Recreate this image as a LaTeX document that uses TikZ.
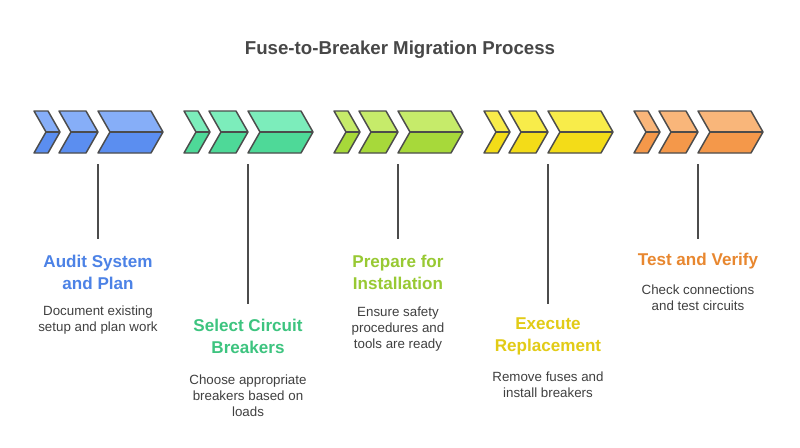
\documentclass[tikz,border=0pt]{standalone}
\usepackage{fontspec}
\setmainfont{Liberation Sans}
\begin{document}
\begin{tikzpicture}[x=0.75pt,y=-0.75pt,
  chev/.style={draw=black!70,line width=1.1pt,line join=round},
  vline/.style={draw=black!70,line width=1.1pt},
  ttl/.style={font=\bfseries\fontsize{12.8}{16.5}\selectfont,align=center},
  dsc/.style={font=\fontsize{10}{12}\selectfont,align=center,text=black!75}]
\useasboundingbox (0,0) rectangle (800,447);
\fill[white] (0,0) rectangle (800,447);
\node[font=\bfseries\fontsize{14}{16}\selectfont,text=black!72] (title) at (400,50) {Fuse-to-Breaker Migration Process};
\newcommand{\mychev}[4]{%
  \fill[#3] (#1,111) -- (#2,111) -- (#2+12,132) -- (#1+12,132) -- cycle;
  \fill[#4] (#1+12,132) -- (#2+12,132) -- (#2,153) -- (#1,153) -- cycle;
  \draw[chev] (#1,111) -- (#2,111) -- (#2+12,132) -- (#2,153) -- (#1,153) -- (#1+12,132) -- cycle;
  \draw[chev] (#1+12,132) -- (#2+12,132);}
\newcommand{\mygroup}[3]{%
  \mychev{#1}{#1+14}{#2}{#3}
  \mychev{#1+25}{#1+52}{#2}{#3}
  \mychev{#1+64}{#1+117}{#2}{#3}}
\definecolor{bT}{HTML}{86AEF8}\definecolor{bB}{HTML}{5B8EF0}\definecolor{bX}{HTML}{4C82E6}
\definecolor{gT}{HTML}{7CEDBB}\definecolor{gB}{HTML}{4ED998}\definecolor{gX}{HTML}{3DC47F}
\definecolor{lT}{HTML}{C6EB6A}\definecolor{lB}{HTML}{A7D93A}\definecolor{lX}{HTML}{98C933}
\definecolor{yT}{HTML}{F8EC4A}\definecolor{yB}{HTML}{F3DC18}\definecolor{yX}{HTML}{E2CB16}
\definecolor{oT}{HTML}{F9B67A}\definecolor{oB}{HTML}{F4984A}\definecolor{oX}{HTML}{E8872F}
\mygroup{34}{bT}{bB}
\mygroup{184}{gT}{gB}
\mygroup{334}{lT}{lB}
\mygroup{484}{yT}{yB}
\mygroup{634}{oT}{oB}
\coordinate (a1) at (98,164); \coordinate (b1) at (98,239);
\coordinate (a2) at (248,164); \coordinate (b2) at (248,304);
\coordinate (a3) at (398,164); \coordinate (b3) at (398,239);
\coordinate (a4) at (548,164); \coordinate (b4) at (548,304);
\coordinate (a5) at (698,164); \coordinate (b5) at (698,239);
\foreach \i in {1,...,5} \draw[vline] (a\i) -- (b\i);
\node[ttl,text=bX] (t1) at (98,272) {Audit System\\and Plan};
\node[dsc] (d1) at (98,320) {Document existing\\setup and plan work};
\node[ttl,text=gX] (t2) at (248,336) {Select Circuit\\Breakers};
\node[dsc] (d2) at (248,396) {Choose appropriate\\breakers based on\\loads};
\node[ttl,text=lX] (t3) at (398,272) {Prepare for\\Installation};
\node[dsc] (d3) at (398,329) {Ensure safety\\procedures and\\tools are ready};
\node[ttl,text=yX] (t4) at (548,336) {Execute\\Replacement};
\node[dsc] (d4) at (548,385) {Remove fuses and\\install breakers};
\node[ttl,text=oX] (t5) at (698,261) {Test and Verify};
\node[dsc] (d5) at (698,298) {Check connections\\and test circuits};
\end{tikzpicture}
\end{document}
